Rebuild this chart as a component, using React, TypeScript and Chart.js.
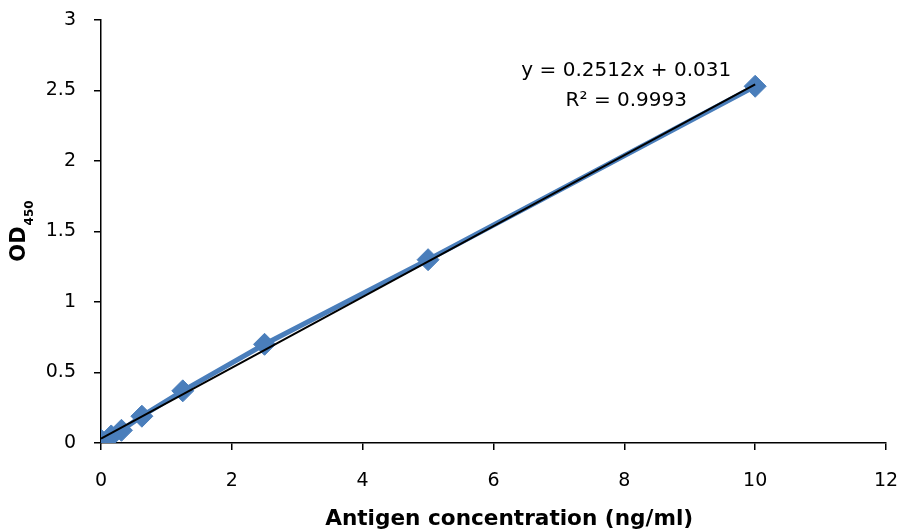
import React, { useEffect, useRef } from "react";
import { Chart, registerables } from "chart.js";

Chart.register(...registerables);

// Data
const concentrations = [0, 0.156, 0.3125, 0.625, 1.25, 2.5, 5, 10];
const odValues = [0.02, 0.05, 0.09, 0.19, 0.37, 0.7, 1.3, 2.53];
const xTickStep = 2;
const yTickStep = 0.5;
const xRange = [0, 12];
const yRange = [0, 3];
const slope = 0.2512;
const intercept = 0.031;
const trendRange = [0, 10];
const equationLines = ["y = 0.2512x + 0.031", "R² = 0.9993"];
const xTitle = "Antigen concentration (ng/ml)";
const yTitleMain = "OD";
const yTitleSub = "450";

const BLUE = "#4A7EBB";
const FONT = "'DejaVu Sans', sans-serif";

const annotationPlugin = {
  id: "annot",
  afterDatasetsDraw(chart: any) {
    const { ctx, scales, chartArea } = chart;
    const xs = scales.x;
    const ys = scales.y;
    ctx.save();
    ctx.fillStyle = "#000";
    ctx.font = `20px ${FONT}`;
    ctx.textAlign = "center";
    ctx.textBaseline = "middle";
    const cx = xs.getPixelForValue(8.03);
    ctx.fillText(equationLines[0], cx, ys.getPixelForValue(2.64));
    ctx.fillText(equationLines[1], cx, ys.getPixelForValue(2.425));
    ctx.restore();

    // X axis title
    ctx.save();
    ctx.fillStyle = "#000";
    ctx.font = `bold 21.6px ${FONT}`;
    ctx.textAlign = "center";
    ctx.textBaseline = "alphabetic";
    ctx.fillText(xTitle, xs.getPixelForValue(6.24), chartArea.bottom + 82);
    ctx.restore();

    // Y axis title with subscript
    ctx.save();
    const midY = (chartArea.top + chartArea.bottom) / 2;
    ctx.translate(25, midY);
    ctx.rotate(-Math.PI / 2);
    ctx.fillStyle = "#000";
    ctx.textBaseline = "alphabetic";
    ctx.font = `bold 21px ${FONT}`;
    const w1 = ctx.measureText(yTitleMain).width;
    ctx.font = `bold 12px ${FONT}`;
    const w2 = ctx.measureText(yTitleSub).width;
    const start = -(w1 + w2) / 2;
    ctx.font = `bold 21px ${FONT}`;
    ctx.textAlign = "left";
    ctx.fillText(yTitleMain, start, 0);
    ctx.font = `bold 12px ${FONT}`;
    ctx.fillText(yTitleSub, start + w1 + 1, 8);
    ctx.restore();
  },
};

export default function App() {
  const ref = useRef<HTMLCanvasElement>(null);
  useEffect(() => {
    document.body.style.margin = "0";
    const canvas = ref.current!;
    const points = concentrations.map((x, i) => ({ x, y: odValues[i] }));
    const trend = trendRange.map((x) => ({ x, y: slope * x + intercept }));
    const axisCommon = {
      type: "linear" as const,
      grid: {
        drawOnChartArea: false,
        drawTicks: true,
        tickLength: 7,
        color: "#000",
        lineWidth: 1.5,
      },
      border: { display: true, color: "#000", width: 1.5 },
    };
    const chart = new Chart(canvas, {
      type: "scatter",
      data: {
        datasets: [
          {
            data: trend,
            showLine: true,
            borderColor: "#000",
            borderWidth: 2,
            pointRadius: 0,
            pointHoverRadius: 0,
          },
          {
            data: points,
            showLine: true,
            borderColor: BLUE,
            backgroundColor: BLUE,
            borderWidth: 5,
            pointStyle: "rectRot",
            pointRadius: 11,
            pointBorderWidth: 1,
          },
        ],
      },
      options: {
        animation: false,
        responsive: false,
        plugins: { legend: { display: false }, tooltip: { enabled: false } },
        layout: { autoPadding: false, padding: { top: 20, right: 17, left: 0, bottom: 0 } },
        scales: {
          x: {
            ...axisCommon,
            min: xRange[0],
            max: xRange[1],
            ticks: {
              stepSize: xTickStep,
              color: "#000",
              font: { family: FONT, size: 19 },
              padding: 20,
              maxRotation: 0,
              callback: (v: any) => String(Number(v)),
            },
            afterFit: (s: any) => {
              s.height = 89;
              s.paddingLeft = 0;
              s.paddingRight = 0;
            },
          },
          y: {
            ...axisCommon,
            min: yRange[0],
            max: yRange[1],
            ticks: {
              stepSize: yTickStep,
              color: "#000",
              font: { family: FONT, size: 19 },
              padding: 18,
              callback: (v: any) => String(Number(v)),
            },
            afterFit: (s: any) => {
              s.width = 101;
              s.paddingTop = 0;
              s.paddingBottom = 0;
            },
          },
        },
      },
      plugins: [annotationPlugin],
    });
    return () => chart.destroy();
  }, []);
  return (
    <div style={{ width: 903, height: 532, background: "#fff" }}>
      <canvas ref={ref} width={903} height={532} style={{ width: 903, height: 532, display: "block" }} />
    </div>
  );
}
